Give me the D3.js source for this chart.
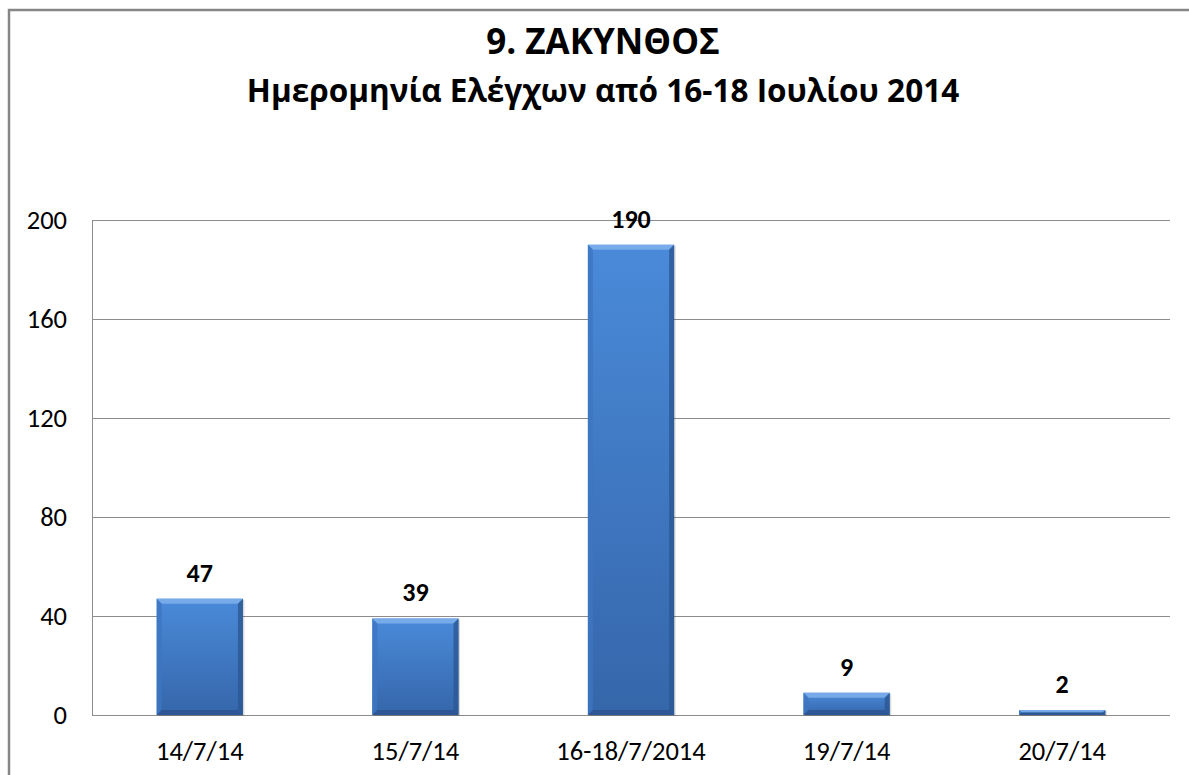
<!DOCTYPE html>
<html lang="el">
<head>
<meta charset="UTF-8">
<title>9. ΖΑΚΥΝΘΟΣ</title>
<script src="https://cdnjs.cloudflare.com/ajax/libs/d3/7.8.5/d3.min.js"></script>
<style>
  body { margin: 0; background: #fff; overflow: hidden; }
  svg { display: block; font-family: Carlito, "Open Sans", "Noto Sans", sans-serif; }
  .ttl { font-family: "Open Sans", "Noto Sans", sans-serif; }
</style>
</head>
<body>
<div id="chart"></div>
<script>
// Data
const categories = ["14/7/14", "15/7/14", "16-18/7/2014", "19/7/14", "20/7/14"];
const values = [47, 39, 190, 9, 2];
const yTicks = [0, 40, 80, 120, 160, 200];
const title = "9. ΖΑΚΥΝΘΟΣ";
const subtitle = "Ημερομηνία Ελέγχων από 16-18 Ιουλίου 2014";

const width = 1189, height = 775;
const margin = { left: 92, right: 19, top: 220, bottom: 60 };

const svg = d3.select("#chart").append("svg")
    .attr("width", width)
    .attr("height", height);

// bar gradient
const defs = svg.append("defs");
const grad = defs.append("linearGradient").attr("id", "barGrad")
    .attr("x1", 0).attr("y1", 0).attr("x2", 0).attr("y2", 1);
grad.append("stop").attr("offset", "0%").attr("stop-color", "#4a8ad9");
grad.append("stop").attr("offset", "100%").attr("stop-color", "#3566aa");

// outer frame (chart border, cut at right/bottom)
svg.append("path")
    .attr("d", `M9,${height} V10 H${width}`)
    .attr("fill", "none")
    .attr("stroke", "#868686")
    .attr("stroke-width", 2.5);

// titles
svg.append("text").attr("class", "ttl")
    .attr("x", 603).attr("y", 54)
    .attr("text-anchor", "middle")
    .attr("font-size", 35).attr("font-weight", "bold")
    .attr("fill", "#000")
    .text(title);
svg.append("text").attr("class", "ttl")
    .attr("x", 603).attr("y", 102)
    .attr("text-anchor", "middle")
    .attr("font-size", 31.5).attr("font-weight", "bold")
    .attr("fill", "#000")
    .text(subtitle);

const x = d3.scaleBand()
    .domain(categories)
    .range([margin.left, width - margin.right])
    .paddingInner(0.6)
    .paddingOuter(0.3);

const y = d3.scaleLinear()
    .domain([0, 200])
    .range([height - margin.bottom, margin.top]);

// gridlines
svg.append("g")
    .selectAll("line")
    .data(yTicks)
    .join("line")
    .attr("x1", margin.left).attr("x2", width - margin.right)
    .attr("y1", d => y(d)).attr("y2", d => y(d))
    .attr("stroke", "#8c8c8c").attr("stroke-width", 1)
    .attr("shape-rendering", "crispEdges");

// y axis
const yAxis = svg.append("g")
    .attr("transform", `translate(${margin.left},0)`)
    .call(d3.axisLeft(y).tickValues(yTicks).tickSize(0).tickPadding(25))
    .attr("font-family", null).attr("font-size", null);
yAxis.select(".domain").attr("stroke", "#8c8c8c").attr("shape-rendering", "crispEdges");
yAxis.selectAll("text").attr("font-size", 26.5).attr("fill", "#000");

// x axis
const xAxis = svg.append("g")
    .attr("transform", `translate(0,${y(0)})`)
    .call(d3.axisBottom(x).tickSize(0).tickPadding(26))
    .attr("font-family", null).attr("font-size", null);
xAxis.select(".domain").remove();
xAxis.selectAll("text").attr("font-size", 26.5).attr("fill", "#000");

// bars with bevel
const bev = 5;
const bars = svg.append("g").selectAll("g")
    .data(values)
    .join("g")
    .attr("transform", (d, i) => `translate(${x(categories[i])},0)`);

bars.append("rect")
    .attr("x", 1.5).attr("y", d => y(d) + 1)
    .attr("width", x.bandwidth()).attr("height", d => y(0) - y(d))
    .attr("fill", "#000").attr("opacity", 0.15);

bars.append("rect")
    .attr("x", 0).attr("y", d => y(d))
    .attr("width", x.bandwidth()).attr("height", d => y(0) - y(d))
    .attr("fill", "url(#barGrad)");

bars.each(function(d) {
  const g = d3.select(this);
  const w = x.bandwidth();
  const t = y(d), b = y(0);
  const h = b - t;
  const e = Math.min(bev, h / 2, w / 2);
  // top bevel (light)
  g.append("path")
    .attr("d", `M0,${t} L${w},${t} L${w - e},${t + e} L${e},${t + e} Z`)
    .attr("fill", "#7fb0ec").attr("opacity", 0.85);
  // left bevel
  g.append("path")
    .attr("d", `M0,${t} L${e},${t + e} L${e},${b - e} L0,${b} Z`)
    .attr("fill", "#3d75c0").attr("opacity", 0.8);
  // right bevel (dark)
  g.append("path")
    .attr("d", `M${w},${t} L${w},${b} L${w - e},${b - e} L${w - e},${t + e} Z`)
    .attr("fill", "#2c5794").attr("opacity", 0.8);
  // bottom bevel
  g.append("path")
    .attr("d", `M0,${b} L${w},${b} L${w - e},${b - e} L${e},${b - e} Z`)
    .attr("fill", "#2a5290").attr("opacity", 0.8);
});

// value labels
svg.append("g").selectAll("text")
    .data(values)
    .join("text")
    .attr("x", (d, i) => x(categories[i]) + x.bandwidth() / 2)
    .attr("y", d => y(d) - 17)
    .attr("text-anchor", "middle")
    .attr("font-size", 26).attr("font-weight", "bold")
    .attr("fill", "#000")
    .text(d => d);
</script>
</body>
</html>
